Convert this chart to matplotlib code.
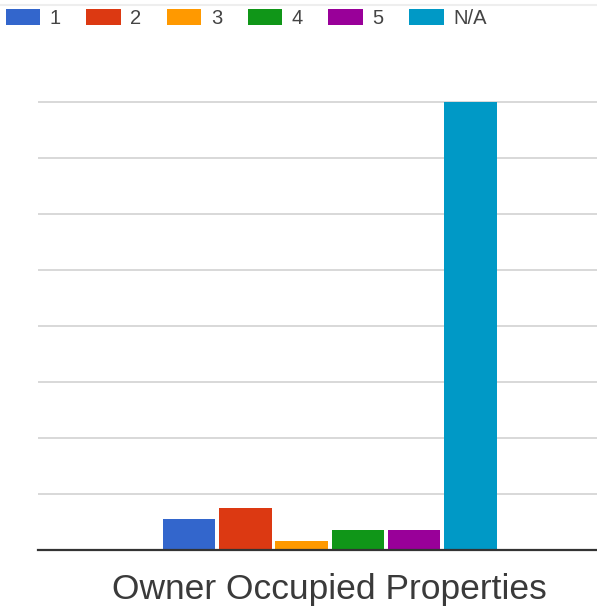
import matplotlib
matplotlib.use("Agg")
import matplotlib.pyplot as plt
from matplotlib.lines import Line2D

categories = ["Owner Occupied Properties"]
series_labels = ["1", "2", "3", "4", "5", "N/A"]
series_values = [11, 15, 3, 7, 7, 160]
colors = ["#3366cc", "#dc3912", "#ff9900", "#109618", "#990099", "#0099c6"]
yticks = [0, 20, 40, 60, 80, 100, 120, 140, 160]

W, H = 597, 607
fig = plt.figure(figsize=(W / 100, H / 100), dpi=100)
plt.rcParams['font.family'] = ['Liberation Sans', 'DejaVu Sans']

# axes geometry in pixels
left_px, right_px = 38, 597
base_px = 549.5
px_per_unit = 2.8
ytop = 162
top_px = base_px - ytop * px_per_unit
ax = fig.add_axes([left_px / W, (H - base_px) / H, (right_px - left_px) / W,
                   (base_px - top_px) / H])

step = 56.3
center_px = 329.7
xmin = (left_px - center_px) / step
xmax = (right_px - center_px) / step
n = len(series_labels)
bars = []
for i, (lab, v, c) in enumerate(zip(series_labels, series_values, colors)):
    b = ax.bar(0 + (i - (n - 1) / 2), v, width=0.935, color=c, label=lab, zorder=3)
    bars.append(b)

ax.set_xlim(xmin, xmax)
ax.set_ylim(0, ytop)
ax.set_yticks(yticks[1:])
ax.yaxis.grid(True, color="#d6d6d6", linewidth=1.3, zorder=0)
ax.tick_params(left=False, bottom=False, labelleft=False, labelbottom=False)
for s in ["top", "right", "left"]:
    ax.spines[s].set_visible(False)
ax.spines["bottom"].set_color("#333333")
ax.spines["bottom"].set_linewidth(1.6)
ax.spines["bottom"].set_zorder(4)

# category label
ax.text(0, -0.088, categories[0], transform=ax.get_xaxis_transform(),
        ha="center", va="center", fontsize=25.5, color="#3a3a3a")

# faint top border line
fig.add_artist(Line2D([0, 1], [1 - 5 / H, 1 - 5 / H], color="#eeeeee", linewidth=1.5))

fs = 14.5
em = fs * 100 / 72
leg = fig.legend(handles=[b[0] for b in bars], labels=series_labels, ncol=6,
                 loc="upper left", bbox_to_anchor=(5.7 / W, 1 - 9 / H),
                 frameon=False, fontsize=fs, handlelength=34.5 / em,
                 handleheight=17 / em, handletextpad=9.5 / em,
                 columnspacing=25.5 / em, borderaxespad=0, borderpad=0,
                 labelcolor="#444444")

fig.savefig("out.png", dpi=100)
